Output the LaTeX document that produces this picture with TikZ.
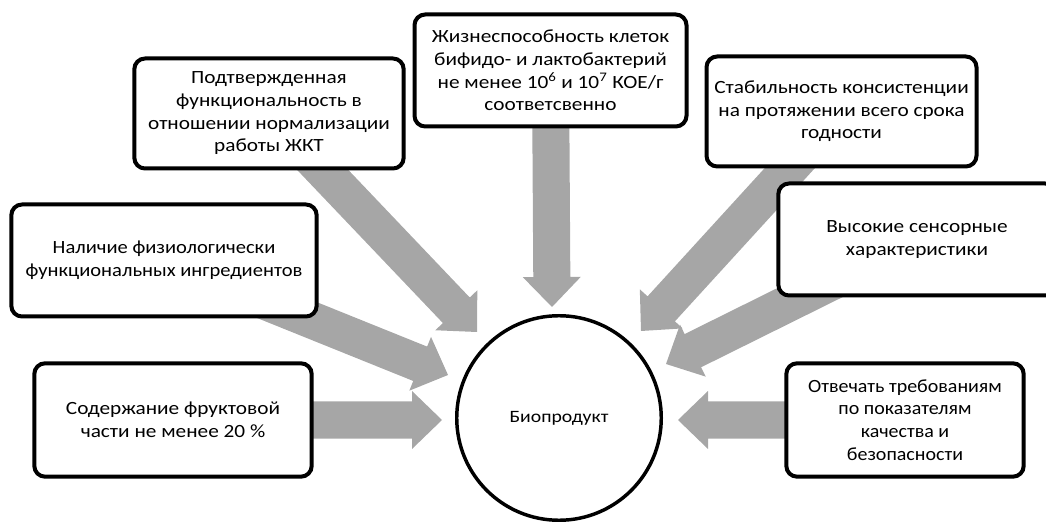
\documentclass[tikz,border=0pt]{standalone}
\usepackage{fontspec}
\setmainfont{Carlito}[FakeStretch=1.14]
\newfontfamily\narrowfont{Carlito}[FakeStretch=1.07]
\newfontfamily\midfont{Carlito}[FakeStretch=1.10]
\usetikzlibrary{calc}
\definecolor{arrowgray}{HTML}{A6A6A6}
\newcommand\blockarr[2]{%
  \coordinate (hb) at ($(#2)!22.5pt!(#1)$);
  \fill[arrowgray] ($(#1)!13.9pt!90:(#2)$) -- ($(hb)!13.9pt!90:(#2)$) -- ($(hb)!21.75pt!90:(#2)$) -- (#2)
    -- ($(hb)!21.75pt!-90:(#2)$) -- ($(hb)!13.9pt!-90:(#2)$) -- ($(#1)!13.9pt!-90:(#2)$) -- cycle;}
\begin{document}
\begin{tikzpicture}[x=0.75pt,y=-0.75pt,
  box/.style={draw=black, line width=3pt, rounded corners=8pt, fill=white, align=center,
    font=\fontsize{14}{17}\selectfont, inner sep=2pt},
  hub/.style={draw=black, line width=2.6pt, circle, fill=white, minimum size=153.4pt,
    font=\fontsize{13}{15}\selectfont}]
\useasboundingbox (0,0) rectangle (1046,523);
% box centres
\path (550.5,70.5) coordinate (c1);
\path (269,113.5) coordinate (c2);
\path (164,260.5) coordinate (c3);
\path (173,420) coordinate (c4);
\path (841.5,111.5) coordinate (c5);
\path (917,239.5) coordinate (c6);
\path (905,420) coordinate (c7);
% arrow tips
\coordinate (t1) at (552,307);
\coordinate (t2) at (477,332);
\coordinate (t3) at (448,375);
\coordinate (t4) at (442,420);
\coordinate (t5) at (641,331);
\coordinate (t6) at (666,364);
\coordinate (t7) at (678,420);
% arrows
\blockarr{c1}{t1}
\blockarr{c2}{t2}
\blockarr{c3}{t3}
\blockarr{c4}{t4}
\blockarr{c5}{t5}
\blockarr{c6}{t6}
\blockarr{c7}{t7}
% nodes
\node[box, minimum width=204pt, minimum height=84pt] (b1) at (c1)
  {Жизнеспособность клеток\\бифидо- и лактобактерий\\не менее 10\textsuperscript{6} и 10\textsuperscript{7} КОЕ/г\\соответсвенно};
\node[box, minimum width=202pt, minimum height=82.5pt] (b2) at (c2)
  {Подтвержденная\\функциональность в\\отношении нормализации\\работы ЖКТ};
\node[box, minimum width=229pt, minimum height=84pt, font=\fontsize{14}{17}\midfont] (b3) at (c3)
  {Наличие физиологически\\функциональных ингредиентов};
\node[box, minimum width=208pt, minimum height=85pt] (b4) at (c4)
  {Содержание фруктовой\\части не менее 20 \%};
\node[box, minimum width=202.5pt, minimum height=82.5pt] (b5) at (c5)
  {Стабильность консистенции\\на протяжении всего срока\\годности};
\node[box, minimum width=208pt, minimum height=84pt] (b6) at (c6)
  {Высокие сенсорные\\характеристики};
\node[box, minimum width=178pt, minimum height=85pt, font=\fontsize{14}{17}\narrowfont] (b7) at (c7)
  {Отвечать требованиям\\по показателям\\качества и\\безопасности};
\node[hub] (hub) at (559,418) {Биопродукт};
\end{tikzpicture}
\end{document}
